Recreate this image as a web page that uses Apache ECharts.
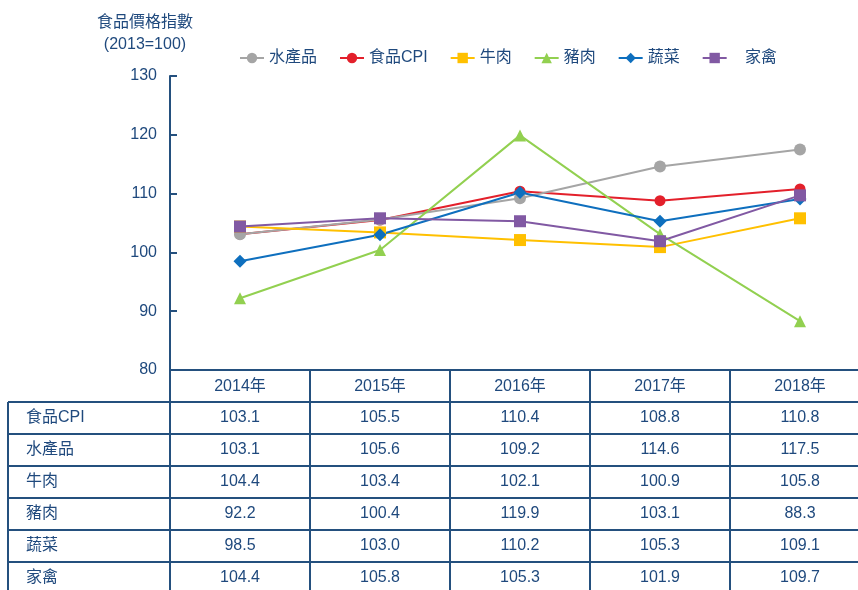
<!DOCTYPE html>
<html><head><meta charset="utf-8">
<script src="https://cdn.jsdelivr.net/npm/echarts@6/dist/echarts.min.js"></script>
<style>html,body{margin:0;padding:0;background:#fff}#c{width:858px;height:590px}</style>
</head><body><div id="c"></div>
<script>
const years = ['2014年','2015年','2016年','2017年','2018年'];
const yTicks = [80, 90, 100, 110, 120, 130];
const foodCPI = [103.1, 105.5, 110.4, 108.8, 110.8];
const seafood = [103.1, 105.6, 109.2, 114.6, 117.5];
const beef = [104.4, 103.4, 102.1, 100.9, 105.8];
const pork = [92.2, 100.4, 119.9, 103.1, 88.3];
const vegetables = [98.5, 103.0, 110.2, 105.3, 109.1];
const poultry = [104.4, 105.8, 105.3, 101.9, 109.7];
const tableRows = [
  ['食品CPI', foodCPI], ['水產品', seafood], ['牛肉', beef],
  ['豬肉', pork], ['蔬菜', vegetables], ['家禽', poultry]
];

const FONT = '"Liberation Sans", Arial, "Noto Sans CJK TC", sans-serif';
const FS = 16;
const TXT = '#1F497D';
const LINE = '#24507E';
const GL = 170, GT = 76, GH = 294, CW = 140;
const HEADER_BOTTOM = 402, ROW_H = 32;

const chart = echarts.init(document.getElementById('c'), null, {renderer: 'canvas'});

function mk(name, data, color, symbol, size) {
  return {
    name, type: 'line', data, symbol, symbolSize: size,
    lineStyle: {color, width: 2}, itemStyle: {color},
    z: 3
  };
}

const graphics = [];
const lineStyle = {stroke: LINE, lineWidth: 2};
graphics.push({type: 'line', shape: {x1: GL, y1: GT + GH, x2: 858, y2: GT + GH}, style: lineStyle});
for (let i = 0; i < tableRows.length; i++) {
  const y = HEADER_BOTTOM + i * ROW_H;
  graphics.push({type: 'line', shape: {x1: 8, y1: y, x2: 858, y2: y}, style: lineStyle});
}
graphics.push({type: 'line', shape: {x1: 8, y1: HEADER_BOTTOM, x2: 8, y2: 590}, style: lineStyle});
for (let j = 0; j < years.length; j++) {
  const x = GL + j * CW;
  graphics.push({type: 'line', shape: {x1: x, y1: GT + GH, x2: x, y2: 590}, style: lineStyle});
}
tableRows.forEach((row, i) => {
  const cy = HEADER_BOTTOM + i * ROW_H + ROW_H / 2;
  graphics.push({type: 'text', x: 26, y: cy,
    style: {text: row[0], fill: TXT, font: FS + 'px ' + FONT, textAlign: 'left', textVerticalAlign: 'middle'}});
  row[1].forEach((v, j) => {
    graphics.push({type: 'text', x: GL + j * CW + CW / 2, y: cy,
      style: {text: v.toFixed(1), fill: TXT, font: FS + 'px ' + FONT, textAlign: 'center', textVerticalAlign: 'middle'}});
  });
});

chart.setOption({
  animation: false,
  textStyle: {fontFamily: FONT},
  grid: {left: GL, top: GT, width: CW * years.length, height: GH, outerBoundsMode: 'none', containLabel: false},
  legend: {
    top: 45, left: 234, itemWidth: 24, itemHeight: 13, itemGap: 22,
    textStyle: {color: TXT, fontSize: FS, fontFamily: FONT},
    formatter: n => (n === '家禽' ? '   ' + n : n),
    data: ['水產品', '食品CPI', '牛肉', '豬肉', '蔬菜', '家禽']
  },
  xAxis: {
    type: 'category', data: years, boundaryGap: true,
    axisLine: {show: false}, axisTick: {show: false}, splitLine: {show: false},
    axisLabel: {color: TXT, fontSize: FS, margin: 9, fontFamily: FONT}
  },
  yAxis: {
    type: 'value', min: yTicks[0], max: yTicks[yTicks.length - 1], interval: 10,
    name: '食品價格指數\n(2013=100)', nameLocation: 'end', nameGap: 20,
    nameTextStyle: {color: TXT, fontSize: FS, lineHeight: 22, align: 'center', padding: [0, 50, 0, 0], fontFamily: FONT},
    axisLine: {show: true, lineStyle: {color: LINE, width: 2}},
    axisTick: {show: true, inside: true, length: 7, lineStyle: {color: LINE, width: 2}},
    axisLabel: {color: TXT, fontSize: FS, margin: 13, fontFamily: FONT},
    splitLine: {show: false}
  },
  graphic: graphics,
  series: [
    mk('食品CPI', foodCPI, '#E3202B', 'circle', 11),
    mk('水產品', seafood, '#A5A5A5', 'circle', 12),
    mk('牛肉', beef, '#FFC000', 'rect', 12),
    mk('豬肉', pork, '#92D050', 'triangle', 12),
    mk('蔬菜', vegetables, '#0E6FBE', 'diamond', 13),
    mk('家禽', poultry, '#8159A3', 'rect', 12)
  ]
});
</script></body></html>
